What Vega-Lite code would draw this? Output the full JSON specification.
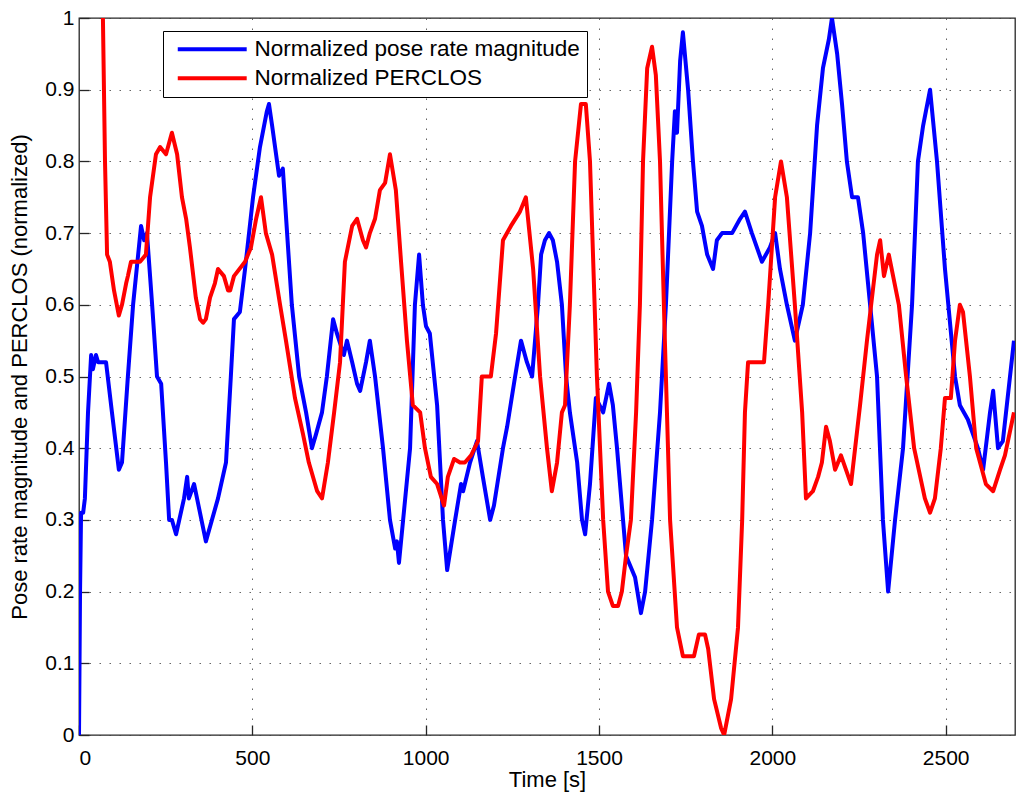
{
  "$schema": "https://vega.github.io/schema/vega-lite/v6.json",
  "width": 936,
  "height": 717,
  "autosize": "none",
  "padding": {"left": 79, "top": 18, "right": 9, "bottom": 68},
  "background": "white",
  "config": {
    "font": "Liberation Sans",
    "view": {"stroke": "#262626", "strokeWidth": 1.3},
    "axis": {
      "domain": false,
      "grid": true,
      "gridColor": "#404040",
      "gridDash": [1.5, 8.5],
      "gridOpacity": 0.8,
      "tickColor": "#262626",
      "tickSize": -10,
      "tickWidth": 1.3,
      "labelColor": "black",
      "labelFontSize": 21,
      "labelFont": "Liberation Sans",
      "titleFont": "Liberation Sans",
      "titleFontSize": 22,
      "titleFontWeight": "normal",
      "titleColor": "black"
    }
  },
  "data": {
    "values": [
      {"t": 0, "v": 0, "s": "Normalized pose rate magnitude"},
      {"t": 3, "v": 0.2, "s": "Normalized pose rate magnitude"},
      {"t": 6, "v": 0.31, "s": "Normalized pose rate magnitude"},
      {"t": 12, "v": 0.31, "s": "Normalized pose rate magnitude"},
      {"t": 17, "v": 0.33, "s": "Normalized pose rate magnitude"},
      {"t": 26, "v": 0.45, "s": "Normalized pose rate magnitude"},
      {"t": 35, "v": 0.53, "s": "Normalized pose rate magnitude"},
      {"t": 40, "v": 0.51, "s": "Normalized pose rate magnitude"},
      {"t": 49, "v": 0.53, "s": "Normalized pose rate magnitude"},
      {"t": 55, "v": 0.52, "s": "Normalized pose rate magnitude"},
      {"t": 78, "v": 0.52, "s": "Normalized pose rate magnitude"},
      {"t": 95, "v": 0.45, "s": "Normalized pose rate magnitude"},
      {"t": 115, "v": 0.37, "s": "Normalized pose rate magnitude"},
      {"t": 124, "v": 0.38, "s": "Normalized pose rate magnitude"},
      {"t": 141, "v": 0.5, "s": "Normalized pose rate magnitude"},
      {"t": 156, "v": 0.6, "s": "Normalized pose rate magnitude"},
      {"t": 179, "v": 0.71, "s": "Normalized pose rate magnitude"},
      {"t": 188, "v": 0.69, "s": "Normalized pose rate magnitude"},
      {"t": 196, "v": 0.7, "s": "Normalized pose rate magnitude"},
      {"t": 211, "v": 0.6, "s": "Normalized pose rate magnitude"},
      {"t": 225, "v": 0.5, "s": "Normalized pose rate magnitude"},
      {"t": 237, "v": 0.49, "s": "Normalized pose rate magnitude"},
      {"t": 251, "v": 0.38, "s": "Normalized pose rate magnitude"},
      {"t": 260, "v": 0.3, "s": "Normalized pose rate magnitude"},
      {"t": 268, "v": 0.3, "s": "Normalized pose rate magnitude"},
      {"t": 280, "v": 0.28, "s": "Normalized pose rate magnitude"},
      {"t": 303, "v": 0.33, "s": "Normalized pose rate magnitude"},
      {"t": 312, "v": 0.36, "s": "Normalized pose rate magnitude"},
      {"t": 317, "v": 0.33, "s": "Normalized pose rate magnitude"},
      {"t": 332, "v": 0.35, "s": "Normalized pose rate magnitude"},
      {"t": 366, "v": 0.27, "s": "Normalized pose rate magnitude"},
      {"t": 401, "v": 0.33, "s": "Normalized pose rate magnitude"},
      {"t": 424, "v": 0.38, "s": "Normalized pose rate magnitude"},
      {"t": 438, "v": 0.5, "s": "Normalized pose rate magnitude"},
      {"t": 447, "v": 0.58, "s": "Normalized pose rate magnitude"},
      {"t": 464, "v": 0.59, "s": "Normalized pose rate magnitude"},
      {"t": 479, "v": 0.65, "s": "Normalized pose rate magnitude"},
      {"t": 502, "v": 0.75, "s": "Normalized pose rate magnitude"},
      {"t": 522, "v": 0.82, "s": "Normalized pose rate magnitude"},
      {"t": 542, "v": 0.87, "s": "Normalized pose rate magnitude"},
      {"t": 548, "v": 0.88, "s": "Normalized pose rate magnitude"},
      {"t": 557, "v": 0.85, "s": "Normalized pose rate magnitude"},
      {"t": 577, "v": 0.78, "s": "Normalized pose rate magnitude"},
      {"t": 588, "v": 0.79, "s": "Normalized pose rate magnitude"},
      {"t": 603, "v": 0.68, "s": "Normalized pose rate magnitude"},
      {"t": 614, "v": 0.6, "s": "Normalized pose rate magnitude"},
      {"t": 635, "v": 0.5, "s": "Normalized pose rate magnitude"},
      {"t": 655, "v": 0.45, "s": "Normalized pose rate magnitude"},
      {"t": 672, "v": 0.4, "s": "Normalized pose rate magnitude"},
      {"t": 684, "v": 0.42, "s": "Normalized pose rate magnitude"},
      {"t": 701, "v": 0.45, "s": "Normalized pose rate magnitude"},
      {"t": 715, "v": 0.5, "s": "Normalized pose rate magnitude"},
      {"t": 733, "v": 0.58, "s": "Normalized pose rate magnitude"},
      {"t": 744, "v": 0.56, "s": "Normalized pose rate magnitude"},
      {"t": 764, "v": 0.53, "s": "Normalized pose rate magnitude"},
      {"t": 773, "v": 0.55, "s": "Normalized pose rate magnitude"},
      {"t": 788, "v": 0.52, "s": "Normalized pose rate magnitude"},
      {"t": 802, "v": 0.49, "s": "Normalized pose rate magnitude"},
      {"t": 811, "v": 0.48, "s": "Normalized pose rate magnitude"},
      {"t": 828, "v": 0.52, "s": "Normalized pose rate magnitude"},
      {"t": 839, "v": 0.55, "s": "Normalized pose rate magnitude"},
      {"t": 854, "v": 0.5, "s": "Normalized pose rate magnitude"},
      {"t": 877, "v": 0.4, "s": "Normalized pose rate magnitude"},
      {"t": 897, "v": 0.3, "s": "Normalized pose rate magnitude"},
      {"t": 912, "v": 0.26, "s": "Normalized pose rate magnitude"},
      {"t": 917, "v": 0.27, "s": "Normalized pose rate magnitude"},
      {"t": 923, "v": 0.24, "s": "Normalized pose rate magnitude"},
      {"t": 935, "v": 0.3, "s": "Normalized pose rate magnitude"},
      {"t": 955, "v": 0.4, "s": "Normalized pose rate magnitude"},
      {"t": 969, "v": 0.6, "s": "Normalized pose rate magnitude"},
      {"t": 981, "v": 0.67, "s": "Normalized pose rate magnitude"},
      {"t": 992, "v": 0.6, "s": "Normalized pose rate magnitude"},
      {"t": 1001, "v": 0.57, "s": "Normalized pose rate magnitude"},
      {"t": 1012, "v": 0.56, "s": "Normalized pose rate magnitude"},
      {"t": 1033, "v": 0.46, "s": "Normalized pose rate magnitude"},
      {"t": 1050, "v": 0.3, "s": "Normalized pose rate magnitude"},
      {"t": 1062, "v": 0.23, "s": "Normalized pose rate magnitude"},
      {"t": 1085, "v": 0.3, "s": "Normalized pose rate magnitude"},
      {"t": 1102, "v": 0.35, "s": "Normalized pose rate magnitude"},
      {"t": 1108, "v": 0.34, "s": "Normalized pose rate magnitude"},
      {"t": 1128, "v": 0.38, "s": "Normalized pose rate magnitude"},
      {"t": 1148, "v": 0.41, "s": "Normalized pose rate magnitude"},
      {"t": 1165, "v": 0.36, "s": "Normalized pose rate magnitude"},
      {"t": 1186, "v": 0.3, "s": "Normalized pose rate magnitude"},
      {"t": 1197, "v": 0.32, "s": "Normalized pose rate magnitude"},
      {"t": 1223, "v": 0.4, "s": "Normalized pose rate magnitude"},
      {"t": 1235, "v": 0.43, "s": "Normalized pose rate magnitude"},
      {"t": 1258, "v": 0.5, "s": "Normalized pose rate magnitude"},
      {"t": 1275, "v": 0.55, "s": "Normalized pose rate magnitude"},
      {"t": 1292, "v": 0.52, "s": "Normalized pose rate magnitude"},
      {"t": 1307, "v": 0.5, "s": "Normalized pose rate magnitude"},
      {"t": 1324, "v": 0.6, "s": "Normalized pose rate magnitude"},
      {"t": 1333, "v": 0.67, "s": "Normalized pose rate magnitude"},
      {"t": 1344, "v": 0.69, "s": "Normalized pose rate magnitude"},
      {"t": 1356, "v": 0.7, "s": "Normalized pose rate magnitude"},
      {"t": 1367, "v": 0.69, "s": "Normalized pose rate magnitude"},
      {"t": 1379, "v": 0.66, "s": "Normalized pose rate magnitude"},
      {"t": 1393, "v": 0.6, "s": "Normalized pose rate magnitude"},
      {"t": 1405, "v": 0.5, "s": "Normalized pose rate magnitude"},
      {"t": 1416, "v": 0.45, "s": "Normalized pose rate magnitude"},
      {"t": 1437, "v": 0.38, "s": "Normalized pose rate magnitude"},
      {"t": 1451, "v": 0.3, "s": "Normalized pose rate magnitude"},
      {"t": 1460, "v": 0.28, "s": "Normalized pose rate magnitude"},
      {"t": 1474, "v": 0.35, "s": "Normalized pose rate magnitude"},
      {"t": 1491, "v": 0.47, "s": "Normalized pose rate magnitude"},
      {"t": 1512, "v": 0.45, "s": "Normalized pose rate magnitude"},
      {"t": 1529, "v": 0.49, "s": "Normalized pose rate magnitude"},
      {"t": 1540, "v": 0.46, "s": "Normalized pose rate magnitude"},
      {"t": 1552, "v": 0.4, "s": "Normalized pose rate magnitude"},
      {"t": 1578, "v": 0.25, "s": "Normalized pose rate magnitude"},
      {"t": 1604, "v": 0.22, "s": "Normalized pose rate magnitude"},
      {"t": 1621, "v": 0.17, "s": "Normalized pose rate magnitude"},
      {"t": 1633, "v": 0.2, "s": "Normalized pose rate magnitude"},
      {"t": 1653, "v": 0.3, "s": "Normalized pose rate magnitude"},
      {"t": 1676, "v": 0.45, "s": "Normalized pose rate magnitude"},
      {"t": 1693, "v": 0.6, "s": "Normalized pose rate magnitude"},
      {"t": 1711, "v": 0.8, "s": "Normalized pose rate magnitude"},
      {"t": 1719, "v": 0.87, "s": "Normalized pose rate magnitude"},
      {"t": 1725, "v": 0.84, "s": "Normalized pose rate magnitude"},
      {"t": 1734, "v": 0.94, "s": "Normalized pose rate magnitude"},
      {"t": 1742, "v": 0.98, "s": "Normalized pose rate magnitude"},
      {"t": 1757, "v": 0.9, "s": "Normalized pose rate magnitude"},
      {"t": 1771, "v": 0.8, "s": "Normalized pose rate magnitude"},
      {"t": 1783, "v": 0.73, "s": "Normalized pose rate magnitude"},
      {"t": 1797, "v": 0.71, "s": "Normalized pose rate magnitude"},
      {"t": 1812, "v": 0.67, "s": "Normalized pose rate magnitude"},
      {"t": 1829, "v": 0.65, "s": "Normalized pose rate magnitude"},
      {"t": 1840, "v": 0.69, "s": "Normalized pose rate magnitude"},
      {"t": 1855, "v": 0.7, "s": "Normalized pose rate magnitude"},
      {"t": 1884, "v": 0.7, "s": "Normalized pose rate magnitude"},
      {"t": 1907, "v": 0.72, "s": "Normalized pose rate magnitude"},
      {"t": 1921, "v": 0.73, "s": "Normalized pose rate magnitude"},
      {"t": 1941, "v": 0.7, "s": "Normalized pose rate magnitude"},
      {"t": 1970, "v": 0.66, "s": "Normalized pose rate magnitude"},
      {"t": 1993, "v": 0.68, "s": "Normalized pose rate magnitude"},
      {"t": 2008, "v": 0.7, "s": "Normalized pose rate magnitude"},
      {"t": 2022, "v": 0.65, "s": "Normalized pose rate magnitude"},
      {"t": 2042, "v": 0.6, "s": "Normalized pose rate magnitude"},
      {"t": 2065, "v": 0.55, "s": "Normalized pose rate magnitude"},
      {"t": 2088, "v": 0.6, "s": "Normalized pose rate magnitude"},
      {"t": 2109, "v": 0.7, "s": "Normalized pose rate magnitude"},
      {"t": 2129, "v": 0.85, "s": "Normalized pose rate magnitude"},
      {"t": 2146, "v": 0.93, "s": "Normalized pose rate magnitude"},
      {"t": 2163, "v": 0.97, "s": "Normalized pose rate magnitude"},
      {"t": 2172, "v": 1.0, "s": "Normalized pose rate magnitude"},
      {"t": 2187, "v": 0.95, "s": "Normalized pose rate magnitude"},
      {"t": 2201, "v": 0.88, "s": "Normalized pose rate magnitude"},
      {"t": 2215, "v": 0.8, "s": "Normalized pose rate magnitude"},
      {"t": 2230, "v": 0.75, "s": "Normalized pose rate magnitude"},
      {"t": 2247, "v": 0.75, "s": "Normalized pose rate magnitude"},
      {"t": 2262, "v": 0.7, "s": "Normalized pose rate magnitude"},
      {"t": 2276, "v": 0.63, "s": "Normalized pose rate magnitude"},
      {"t": 2302, "v": 0.5, "s": "Normalized pose rate magnitude"},
      {"t": 2319, "v": 0.3, "s": "Normalized pose rate magnitude"},
      {"t": 2334, "v": 0.2, "s": "Normalized pose rate magnitude"},
      {"t": 2354, "v": 0.3, "s": "Normalized pose rate magnitude"},
      {"t": 2377, "v": 0.4, "s": "Normalized pose rate magnitude"},
      {"t": 2403, "v": 0.6, "s": "Normalized pose rate magnitude"},
      {"t": 2420, "v": 0.8, "s": "Normalized pose rate magnitude"},
      {"t": 2435, "v": 0.85, "s": "Normalized pose rate magnitude"},
      {"t": 2455, "v": 0.9, "s": "Normalized pose rate magnitude"},
      {"t": 2475, "v": 0.8, "s": "Normalized pose rate magnitude"},
      {"t": 2498, "v": 0.65, "s": "Normalized pose rate magnitude"},
      {"t": 2527, "v": 0.5, "s": "Normalized pose rate magnitude"},
      {"t": 2541, "v": 0.46, "s": "Normalized pose rate magnitude"},
      {"t": 2564, "v": 0.44, "s": "Normalized pose rate magnitude"},
      {"t": 2593, "v": 0.4, "s": "Normalized pose rate magnitude"},
      {"t": 2608, "v": 0.37, "s": "Normalized pose rate magnitude"},
      {"t": 2628, "v": 0.45, "s": "Normalized pose rate magnitude"},
      {"t": 2637, "v": 0.48, "s": "Normalized pose rate magnitude"},
      {"t": 2651, "v": 0.4, "s": "Normalized pose rate magnitude"},
      {"t": 2665, "v": 0.41, "s": "Normalized pose rate magnitude"},
      {"t": 2697, "v": 0.55, "s": "Normalized pose rate magnitude"},
      {"t": 69, "v": 1.0, "s": "Normalized PERCLOS"},
      {"t": 75, "v": 0.8, "s": "Normalized PERCLOS"},
      {"t": 81, "v": 0.67, "s": "Normalized PERCLOS"},
      {"t": 89, "v": 0.66, "s": "Normalized PERCLOS"},
      {"t": 101, "v": 0.62, "s": "Normalized PERCLOS"},
      {"t": 115, "v": 0.585, "s": "Normalized PERCLOS"},
      {"t": 124, "v": 0.6, "s": "Normalized PERCLOS"},
      {"t": 136, "v": 0.63, "s": "Normalized PERCLOS"},
      {"t": 141, "v": 0.64, "s": "Normalized PERCLOS"},
      {"t": 150, "v": 0.66, "s": "Normalized PERCLOS"},
      {"t": 176, "v": 0.66, "s": "Normalized PERCLOS"},
      {"t": 193, "v": 0.67, "s": "Normalized PERCLOS"},
      {"t": 205, "v": 0.75, "s": "Normalized PERCLOS"},
      {"t": 222, "v": 0.81, "s": "Normalized PERCLOS"},
      {"t": 234, "v": 0.82, "s": "Normalized PERCLOS"},
      {"t": 251, "v": 0.81, "s": "Normalized PERCLOS"},
      {"t": 268, "v": 0.84, "s": "Normalized PERCLOS"},
      {"t": 283, "v": 0.81, "s": "Normalized PERCLOS"},
      {"t": 297, "v": 0.75, "s": "Normalized PERCLOS"},
      {"t": 309, "v": 0.72, "s": "Normalized PERCLOS"},
      {"t": 320, "v": 0.68, "s": "Normalized PERCLOS"},
      {"t": 337, "v": 0.61, "s": "Normalized PERCLOS"},
      {"t": 349, "v": 0.58, "s": "Normalized PERCLOS"},
      {"t": 358, "v": 0.575, "s": "Normalized PERCLOS"},
      {"t": 366, "v": 0.58, "s": "Normalized PERCLOS"},
      {"t": 378, "v": 0.61, "s": "Normalized PERCLOS"},
      {"t": 392, "v": 0.63, "s": "Normalized PERCLOS"},
      {"t": 401, "v": 0.65, "s": "Normalized PERCLOS"},
      {"t": 418, "v": 0.64, "s": "Normalized PERCLOS"},
      {"t": 430, "v": 0.62, "s": "Normalized PERCLOS"},
      {"t": 436, "v": 0.62, "s": "Normalized PERCLOS"},
      {"t": 447, "v": 0.64, "s": "Normalized PERCLOS"},
      {"t": 479, "v": 0.66, "s": "Normalized PERCLOS"},
      {"t": 496, "v": 0.68, "s": "Normalized PERCLOS"},
      {"t": 511, "v": 0.72, "s": "Normalized PERCLOS"},
      {"t": 525, "v": 0.75, "s": "Normalized PERCLOS"},
      {"t": 539, "v": 0.7, "s": "Normalized PERCLOS"},
      {"t": 557, "v": 0.67, "s": "Normalized PERCLOS"},
      {"t": 580, "v": 0.6, "s": "Normalized PERCLOS"},
      {"t": 597, "v": 0.55, "s": "Normalized PERCLOS"},
      {"t": 623, "v": 0.47, "s": "Normalized PERCLOS"},
      {"t": 646, "v": 0.42, "s": "Normalized PERCLOS"},
      {"t": 663, "v": 0.38, "s": "Normalized PERCLOS"},
      {"t": 687, "v": 0.34, "s": "Normalized PERCLOS"},
      {"t": 701, "v": 0.33, "s": "Normalized PERCLOS"},
      {"t": 718, "v": 0.38, "s": "Normalized PERCLOS"},
      {"t": 736, "v": 0.45, "s": "Normalized PERCLOS"},
      {"t": 753, "v": 0.52, "s": "Normalized PERCLOS"},
      {"t": 767, "v": 0.66, "s": "Normalized PERCLOS"},
      {"t": 788, "v": 0.71, "s": "Normalized PERCLOS"},
      {"t": 802, "v": 0.72, "s": "Normalized PERCLOS"},
      {"t": 819, "v": 0.69, "s": "Normalized PERCLOS"},
      {"t": 828, "v": 0.68, "s": "Normalized PERCLOS"},
      {"t": 839, "v": 0.7, "s": "Normalized PERCLOS"},
      {"t": 854, "v": 0.72, "s": "Normalized PERCLOS"},
      {"t": 868, "v": 0.76, "s": "Normalized PERCLOS"},
      {"t": 883, "v": 0.77, "s": "Normalized PERCLOS"},
      {"t": 897, "v": 0.81, "s": "Normalized PERCLOS"},
      {"t": 914, "v": 0.76, "s": "Normalized PERCLOS"},
      {"t": 929, "v": 0.66, "s": "Normalized PERCLOS"},
      {"t": 946, "v": 0.55, "s": "Normalized PERCLOS"},
      {"t": 963, "v": 0.46, "s": "Normalized PERCLOS"},
      {"t": 984, "v": 0.45, "s": "Normalized PERCLOS"},
      {"t": 998, "v": 0.4, "s": "Normalized PERCLOS"},
      {"t": 1015, "v": 0.36, "s": "Normalized PERCLOS"},
      {"t": 1033, "v": 0.35, "s": "Normalized PERCLOS"},
      {"t": 1053, "v": 0.32, "s": "Normalized PERCLOS"},
      {"t": 1064, "v": 0.36, "s": "Normalized PERCLOS"},
      {"t": 1082, "v": 0.385, "s": "Normalized PERCLOS"},
      {"t": 1099, "v": 0.38, "s": "Normalized PERCLOS"},
      {"t": 1113, "v": 0.38, "s": "Normalized PERCLOS"},
      {"t": 1131, "v": 0.39, "s": "Normalized PERCLOS"},
      {"t": 1151, "v": 0.41, "s": "Normalized PERCLOS"},
      {"t": 1162, "v": 0.5, "s": "Normalized PERCLOS"},
      {"t": 1188, "v": 0.5, "s": "Normalized PERCLOS"},
      {"t": 1203, "v": 0.56, "s": "Normalized PERCLOS"},
      {"t": 1223, "v": 0.69, "s": "Normalized PERCLOS"},
      {"t": 1246, "v": 0.71, "s": "Normalized PERCLOS"},
      {"t": 1272, "v": 0.73, "s": "Normalized PERCLOS"},
      {"t": 1289, "v": 0.75, "s": "Normalized PERCLOS"},
      {"t": 1310, "v": 0.65, "s": "Normalized PERCLOS"},
      {"t": 1330, "v": 0.5, "s": "Normalized PERCLOS"},
      {"t": 1350, "v": 0.4, "s": "Normalized PERCLOS"},
      {"t": 1364, "v": 0.34, "s": "Normalized PERCLOS"},
      {"t": 1379, "v": 0.38, "s": "Normalized PERCLOS"},
      {"t": 1393, "v": 0.45, "s": "Normalized PERCLOS"},
      {"t": 1402, "v": 0.46, "s": "Normalized PERCLOS"},
      {"t": 1416, "v": 0.6, "s": "Normalized PERCLOS"},
      {"t": 1431, "v": 0.8, "s": "Normalized PERCLOS"},
      {"t": 1448, "v": 0.88, "s": "Normalized PERCLOS"},
      {"t": 1462, "v": 0.88, "s": "Normalized PERCLOS"},
      {"t": 1474, "v": 0.8, "s": "Normalized PERCLOS"},
      {"t": 1494, "v": 0.5, "s": "Normalized PERCLOS"},
      {"t": 1512, "v": 0.3, "s": "Normalized PERCLOS"},
      {"t": 1526, "v": 0.2, "s": "Normalized PERCLOS"},
      {"t": 1540, "v": 0.18, "s": "Normalized PERCLOS"},
      {"t": 1555, "v": 0.18, "s": "Normalized PERCLOS"},
      {"t": 1566, "v": 0.2, "s": "Normalized PERCLOS"},
      {"t": 1578, "v": 0.25, "s": "Normalized PERCLOS"},
      {"t": 1592, "v": 0.3, "s": "Normalized PERCLOS"},
      {"t": 1607, "v": 0.45, "s": "Normalized PERCLOS"},
      {"t": 1618, "v": 0.6, "s": "Normalized PERCLOS"},
      {"t": 1627, "v": 0.8, "s": "Normalized PERCLOS"},
      {"t": 1639, "v": 0.93, "s": "Normalized PERCLOS"},
      {"t": 1653, "v": 0.96, "s": "Normalized PERCLOS"},
      {"t": 1664, "v": 0.92, "s": "Normalized PERCLOS"},
      {"t": 1676, "v": 0.8, "s": "Normalized PERCLOS"},
      {"t": 1690, "v": 0.55, "s": "Normalized PERCLOS"},
      {"t": 1705, "v": 0.3, "s": "Normalized PERCLOS"},
      {"t": 1725, "v": 0.15, "s": "Normalized PERCLOS"},
      {"t": 1742, "v": 0.11, "s": "Normalized PERCLOS"},
      {"t": 1774, "v": 0.11, "s": "Normalized PERCLOS"},
      {"t": 1788, "v": 0.14, "s": "Normalized PERCLOS"},
      {"t": 1806, "v": 0.14, "s": "Normalized PERCLOS"},
      {"t": 1815, "v": 0.12, "s": "Normalized PERCLOS"},
      {"t": 1832, "v": 0.05, "s": "Normalized PERCLOS"},
      {"t": 1852, "v": 0.01, "s": "Normalized PERCLOS"},
      {"t": 1861, "v": 0.0, "s": "Normalized PERCLOS"},
      {"t": 1881, "v": 0.05, "s": "Normalized PERCLOS"},
      {"t": 1901, "v": 0.15, "s": "Normalized PERCLOS"},
      {"t": 1913, "v": 0.3, "s": "Normalized PERCLOS"},
      {"t": 1921, "v": 0.45, "s": "Normalized PERCLOS"},
      {"t": 1930, "v": 0.52, "s": "Normalized PERCLOS"},
      {"t": 1976, "v": 0.52, "s": "Normalized PERCLOS"},
      {"t": 1988, "v": 0.6, "s": "Normalized PERCLOS"},
      {"t": 2008, "v": 0.75, "s": "Normalized PERCLOS"},
      {"t": 2025, "v": 0.8, "s": "Normalized PERCLOS"},
      {"t": 2042, "v": 0.75, "s": "Normalized PERCLOS"},
      {"t": 2065, "v": 0.6, "s": "Normalized PERCLOS"},
      {"t": 2086, "v": 0.45, "s": "Normalized PERCLOS"},
      {"t": 2097, "v": 0.33, "s": "Normalized PERCLOS"},
      {"t": 2117, "v": 0.34, "s": "Normalized PERCLOS"},
      {"t": 2132, "v": 0.36, "s": "Normalized PERCLOS"},
      {"t": 2143, "v": 0.38, "s": "Normalized PERCLOS"},
      {"t": 2155, "v": 0.43, "s": "Normalized PERCLOS"},
      {"t": 2166, "v": 0.41, "s": "Normalized PERCLOS"},
      {"t": 2181, "v": 0.37, "s": "Normalized PERCLOS"},
      {"t": 2198, "v": 0.39, "s": "Normalized PERCLOS"},
      {"t": 2227, "v": 0.35, "s": "Normalized PERCLOS"},
      {"t": 2253, "v": 0.46, "s": "Normalized PERCLOS"},
      {"t": 2273, "v": 0.55, "s": "Normalized PERCLOS"},
      {"t": 2302, "v": 0.67, "s": "Normalized PERCLOS"},
      {"t": 2311, "v": 0.69, "s": "Normalized PERCLOS"},
      {"t": 2322, "v": 0.64, "s": "Normalized PERCLOS"},
      {"t": 2336, "v": 0.67, "s": "Normalized PERCLOS"},
      {"t": 2365, "v": 0.6, "s": "Normalized PERCLOS"},
      {"t": 2386, "v": 0.5, "s": "Normalized PERCLOS"},
      {"t": 2409, "v": 0.4, "s": "Normalized PERCLOS"},
      {"t": 2440, "v": 0.33, "s": "Normalized PERCLOS"},
      {"t": 2455, "v": 0.31, "s": "Normalized PERCLOS"},
      {"t": 2469, "v": 0.33, "s": "Normalized PERCLOS"},
      {"t": 2486, "v": 0.4, "s": "Normalized PERCLOS"},
      {"t": 2498, "v": 0.47, "s": "Normalized PERCLOS"},
      {"t": 2515, "v": 0.47, "s": "Normalized PERCLOS"},
      {"t": 2527, "v": 0.55, "s": "Normalized PERCLOS"},
      {"t": 2541, "v": 0.6, "s": "Normalized PERCLOS"},
      {"t": 2550, "v": 0.59, "s": "Normalized PERCLOS"},
      {"t": 2570, "v": 0.5, "s": "Normalized PERCLOS"},
      {"t": 2588, "v": 0.4, "s": "Normalized PERCLOS"},
      {"t": 2616, "v": 0.35, "s": "Normalized PERCLOS"},
      {"t": 2637, "v": 0.34, "s": "Normalized PERCLOS"},
      {"t": 2657, "v": 0.37, "s": "Normalized PERCLOS"},
      {"t": 2671, "v": 0.39, "s": "Normalized PERCLOS"},
      {"t": 2697, "v": 0.45, "s": "Normalized PERCLOS"}
    ]
  },
  "mark": {"type": "line", "strokeWidth": 4, "clip": true, "strokeJoin": "round"},
  "encoding": {
    "x": {
      "field": "t",
      "type": "quantitative",
      "title": "Time [s]",
      "scale": {"domain": [0, 2700], "nice": false},
      "axis": {"values": [0, 500, 1000, 1500, 2000, 2500], "format": "d", "labelPadding": 22, "titlePadding": 1}
    },
    "y": {
      "field": "v",
      "type": "quantitative",
      "title": "Pose rate magnitude and PERCLOS (normalized)",
      "scale": {"domain": [0, 1], "nice": false},
      "axis": {"values": [0, 0.1, 0.2, 0.3, 0.4, 0.5, 0.6, 0.7, 0.8, 0.9, 1], "format": "~g", "labelPadding": 15, "titlePadding": 13}
    },
    "color": {
      "field": "s",
      "type": "nominal",
      "scale": {"domain": ["Normalized pose rate magnitude", "Normalized PERCLOS"], "range": ["#0000ff", "#ff0000"]},
      "legend": {
        "orient": "none",
        "legendX": 84,
        "legendY": 13,
        "title": null,
        "direction": "vertical",
        "fillColor": "white",
        "strokeColor": "black",
        "padding": 7,
        "rowPadding": 6,
        "symbolType": "M-0.41,0H7.7",
        "symbolSize": 289,
        "symbolStrokeWidth": 4,
        "symbolFillColor": "transparent",
        "labelOffset": 62,
        "labelFontSize": 22.5,
        "labelFont": "Liberation Sans",
        "labelColor": "black",
        "labelLimit": 500
      }
    },
    "order": {"field": "t", "type": "quantitative"}
  }
}
